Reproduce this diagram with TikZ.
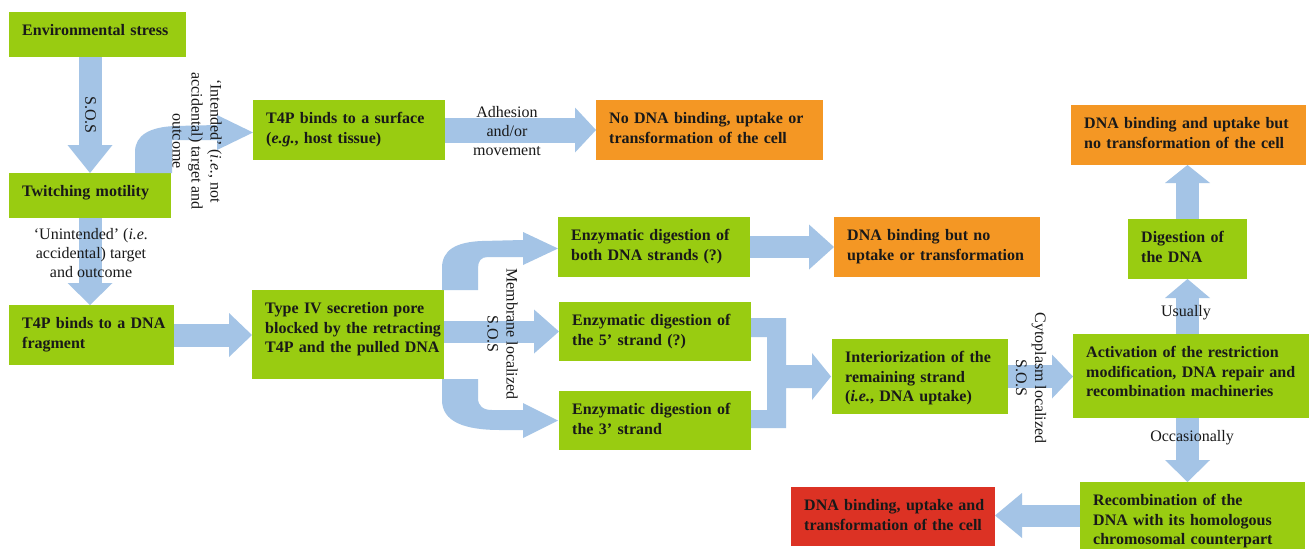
\documentclass[tikz,border=0pt]{standalone}
\usepackage{fontspec}
\setmainfont{Liberation Serif}
\usetikzlibrary{arrows.meta,calc}
\definecolor{boxgreen}{RGB}{153,204,17}
\definecolor{boxorange}{RGB}{244,151,36}
\definecolor{boxred}{RGB}{220,50,36}
\definecolor{arrowblue}{RGB}{164,196,230}
\definecolor{txt}{RGB}{25,25,25}
\tikzset{
  box/.style={rectangle, inner sep=0pt, outer sep=0pt, anchor=north west, fill=#1},
  btxt/.style={anchor=north west, inner sep=0pt, xshift=13pt, yshift=-12.5pt, text width=#1, align=left, text height=11pt, font=\fontsize{16}{19.5}\selectfont\bfseries, text=txt},
  lbl/.style={font=\fontsize{16}{19}\selectfont, text=txt, align=center, inner sep=0pt},
  barrow/.style n args={3}{draw=arrowblue, line width=#1, -{Triangle[length=#3,width=#2,line width=0pt,fill=arrowblue]}},
  bentarrow/.style={fill=arrowblue}
}
\begin{document}
\begin{tikzpicture}[x=1pt,y=-1pt]
\fill[white] (0,0) rectangle (1309,549);
\useasboundingbox (0,0) rectangle (1309,549);

% boxes
\node[box=boxgreen, minimum width=177pt, minimum height=45pt, label={[btxt=164pt]north west:{Environmental stress}}] (env) at (9,12) {};
\node[box=boxgreen, minimum width=162pt, minimum height=45pt, label={[btxt=149pt]north west:{Twitching motility}}] (tw) at (9,173) {};
\node[box=boxgreen, minimum width=192pt, minimum height=60pt, label={[btxt=179pt]north west:{T4P binds to a surface\\(\textit{e.g.}, host tissue)}}] (surf) at (253,100) {};
\node[box=boxorange, minimum width=227pt, minimum height=60pt, label={[btxt=214pt]north west:{No DNA binding, uptake or\\transformation of the cell}}] (nodna) at (596,100) {};
\node[box=boxgreen, minimum width=165pt, minimum height=60pt, label={[btxt=152pt]north west:{T4P binds to a DNA\\fragment}}] (dnafrag) at (9,305) {};
\node[box=boxgreen, minimum width=192pt, minimum height=89pt, label={[btxt=179pt]north west:{Type IV secretion pore\\blocked by the retracting\\T4P and the pulled DNA}}] (pore) at (252,290) {};
\node[box=boxgreen, minimum width=192pt, minimum height=60pt, label={[btxt=179pt]north west:{Enzymatic digestion of\\both DNA strands (?)}}] (both) at (558,217) {};
\node[box=boxorange, minimum width=206pt, minimum height=60pt, label={[btxt=193pt]north west:{DNA binding but no\\uptake or transformation}}] (nouptake) at (834,217) {};
\node[box=boxgreen, minimum width=192pt, minimum height=59pt, label={[btxt=179pt]north west:{Enzymatic digestion of\\the 5’ strand (?)}}] (five) at (559,302) {};
\node[box=boxgreen, minimum width=192pt, minimum height=59pt, label={[btxt=179pt]north west:{Enzymatic digestion of\\the 3’ strand}}] (three) at (559,391) {};
\node[box=boxgreen, minimum width=176pt, minimum height=75pt, label={[btxt=163pt]north west:{Interiorization of the\\remaining strand\\(\textit{i.e.}, DNA uptake)}}] (inter) at (832,339) {};
\node[box=boxgreen, minimum width=236pt, minimum height=84pt, label={[btxt=223pt]north west:{Activation of the restriction\\modification, DNA repair and\\recombination machineries}}] (act) at (1073,334) {};
\node[box=boxgreen, minimum width=119pt, minimum height=60pt, label={[btxt=106pt]north west:{Digestion of\\the DNA}}] (dig) at (1128,219) {};
\node[box=boxorange, minimum width=235pt, minimum height=60pt, label={[btxt=222pt]north west:{DNA binding and uptake but\\no transformation of the cell}}] (upt) at (1071,105) {};
\node[box=boxgreen, minimum width=225pt, minimum height=67pt, label={[btxt=212pt]north west:{Recombination of the\\DNA with its homologous\\chromosomal counterpart}}] (recomb) at (1080,482) {};
\node[box=boxred, minimum width=204pt, minimum height=59pt, label={[btxt=191pt]north west:{DNA binding, uptake and\\transformation of the cell}}] (red) at (791,487) {};

% straight block arrows
\draw[barrow={23pt}{45pt}{28pt}] (env.south -| tw.north) -- (tw.north);
\draw[barrow={23pt}{45pt}{22pt}] (tw.south) -- (tw.south |- dnafrag.north);
\draw[barrow={25pt}{45pt}{21pt}] (surf.east) -- (nodna.west);
\draw[barrow={23pt}{44pt}{23pt}] (dnafrag.east) -- (dnafrag.east -| pore.west);
\draw[barrow={22pt}{44pt}{25pt}] (pore.east |- five.west) -- (five.west);
\draw[barrow={22pt}{45pt}{25pt}] (both.east) -- (nouptake.west);
\draw[barrow={23pt}{44pt}{21pt}] (inter.east) -- (inter.east -| act.west);
\draw[barrow={23pt}{45pt}{19pt}] (act.north -| dig.south) -- (dig.south);
\draw[barrow={23pt}{45pt}{18pt}] (dig.north) -- (dig.north |- upt.south);
\draw[barrow={23pt}{45pt}{22pt}] (act.south -| dig.south) -- (dig.south |- recomb.north);
\draw[barrow={22pt}{45pt}{27pt}] (recomb.west) -- (recomb.west -| red.east);

% bent arrows
\fill[bentarrow] (135,173) -- (135,152) .. controls (135,135) and (150,127) .. (175,126) -- (217,125) -- (217,115) -- (253,132.5) -- (217,150) -- (217,140) -- (172,140) -- (172,173) -- cycle;
\fill[bentarrow] (442,290) -- (442,268) .. controls (442,250) and (456,242) .. (482,241) -- (523,240) -- (523,232) -- (558,248.5) -- (523,265) -- (523,257) -- (488,257) .. controls (481,257) and (478,261) .. (478,268) -- (478,290) -- cycle;
\fill[bentarrow] (442,379) -- (442,400) .. controls (442,422) and (465,430) .. (500,430) -- (523,430) -- (523,438) -- (558,420.5) -- (523,403) -- (523,410) -- (492,410) .. controls (483,410) and (478,406) .. (478,398) -- (478,379) -- cycle;
\fill[bentarrow] (751,318) -- (786,318) -- (786,365) -- (812,365) -- (812,353) -- (831,376.5) -- (812,400) -- (812,388) -- (786,388) -- (786,428) -- (751,428) -- (751,410) -- (767,410) -- (767,337) -- (751,337) -- cycle;

% labels
\node[lbl, rotate=-90] (sos1) at (90.5,115) {S.O.S};
\node[lbl, rotate=-90] (intd) at (197,141) {‘Intended’ (\textit{i.e.}, not\\accidental) target and\\outcome};
\node[lbl] (unint) at (91,253) {‘Unintended’ (\textit{i.e.}\\accidental) target\\and outcome};
\node[lbl] (adh) at (507,131) {Adhesion\\and/or\\movement};
\node[lbl, rotate=-90] (memb) at (502.5,334) {Membrane localized\\S.O.S};
\node[lbl, rotate=-90] (cyto) at (1031,378) {Cytoplasm localized\\S.O.S};
\node[lbl] (usu) at (1186,313) {Usually};
\node[lbl] (occ) at (1192,438) {Occasionally};
\end{tikzpicture}
\end{document}
